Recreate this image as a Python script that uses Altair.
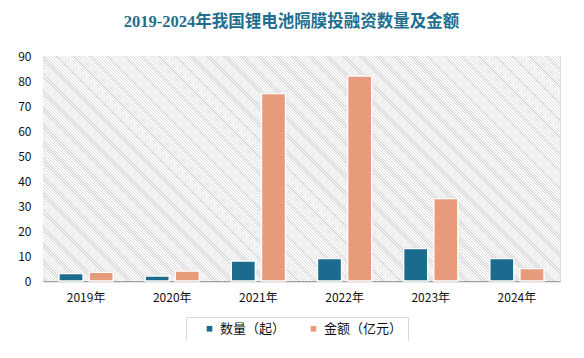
import altair as alt
import pandas as pd

years = ["2019年", "2020年", "2021年", "2022年", "2023年", "2024年"]
count_values = [3, 2, 8, 9, 13, 9]
amount_values = [3.5, 4, 75, 82, 33, 5]
series_names = ["数量（起）", "金额（亿元）"]
colors = ["#1b6b8f", "#e89b7b"]
y_ticks = [0, 10, 20, 30, 40, 50, 60, 70, 80, 90]
title_text = "2019-2024年我国锂电池隔膜投融资数量及金额"

rows = []
for y, c, a in zip(years, count_values, amount_values):
    rows.append({"year": y, "series": series_names[0], "value": c})
    rows.append({"year": y, "series": series_names[1], "value": a})
df = pd.DataFrame(rows)

W, H = 517, 225

# diagonal hatch background built as a striped gradient
period = 2.0
length = (W + H) / 2 ** 0.5
n = int(length / period)
stops = []
line_frac = 0.45
for i in range(n):
    t0 = i / n
    t1 = (i + line_frac) / n
    nxt = (i + 1) / n
    stops.append({"offset": t0, "color": "#dcdcdc"})
    stops.append({"offset": t1, "color": "#dcdcdc"})
    stops.append({"offset": t1, "color": "#ffffff"})
    stops.append({"offset": nxt, "color": "#ffffff"})
s = (W + H) / (W + H * H / W)
hatch = {
    "gradient": "linear",
    "x1": 0, "y1": 1,
    "x2": s, "y2": 1 - s * H / W,
    "stops": stops,
}

font = "Noto Sans CJK SC"

bg = alt.Chart(pd.DataFrame({"bg": [0]})).mark_rect(color=hatch).encode(
    x=alt.value(0), x2=alt.value({"expr": "width"}),
    y=alt.value(0), y2=alt.value({"expr": "height"}),
)

x_enc = alt.X(
    "year:N", sort=years,
    scale=alt.Scale(paddingInner=0.37, paddingOuter=0.185),
    axis=alt.Axis(title=None, labelAngle=0, ticks=False, domainColor="#a0a0a0",
                  domainWidth=1.5, labelFontSize=12, labelColor="#111",
                  labelFont=font, labelPadding=11),
)
y_enc = alt.Y(
    "value:Q",
    scale=alt.Scale(domain=[0, 90], nice=False),
    axis=alt.Axis(title=None, values=y_ticks, grid=False, domain=False, ticks=False,
                  labelFontSize=12, labelColor="#111", labelFont=font, labelPadding=12),
)
xoff = alt.XOffset("series:N", sort=series_names, scale=alt.Scale(paddingInner=0.2, paddingOuter=0))

shadow = alt.Chart(df).mark_bar(
    color="#000000", opacity=0.10, xOffset=2, yOffset=-1,
    stroke="#000000", strokeWidth=4, strokeOpacity=0.06,
).encode(x=x_enc, y=y_enc, xOffset=xoff)

bars = alt.Chart(df).mark_bar(stroke="white", strokeWidth=1.5).encode(
    x=x_enc, y=y_enc, xOffset=xoff,
    color=alt.Color(
        "series:N", sort=series_names,
        scale=alt.Scale(domain=series_names, range=colors),
        legend=alt.Legend(
            title=None, orient="none", legendX=143, legendY=261, direction="horizontal",
            symbolType="square", symbolSize=32, symbolStrokeWidth=0, symbolOffset=12,
            labelFontSize=13, labelFont=font, labelColor="#111",
            strokeColor="#d9d9d9", padding=5, columnPadding=9, labelOffset=4,
        ),
    ),
)

chart = alt.layer(bg, shadow, bars).properties(
    width=W, height=H,
    title=alt.TitleParams(
        title_text, font="Liberation Serif, Noto Sans CJK SC", fontSize=16.5,
        fontWeight="bold", color="#1f6e8f", anchor="middle", dx=-10, offset=20,
    ),
    padding={"left": 35, "top": 48, "right": 16, "bottom": 60},
    autosize=alt.AutoSizeParams(type="none"),
).configure_view(stroke=None).configure(background="white")

chart.save("out.html", embed_options={"renderer": "svg", "actions": False})
